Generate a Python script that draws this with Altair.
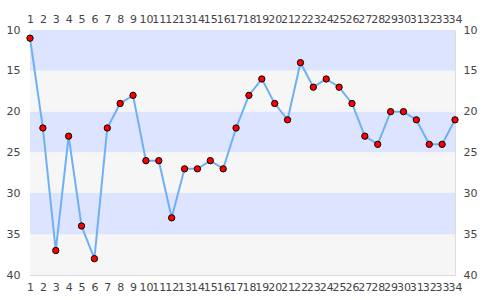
import altair as alt
import pandas as pd

xs = list(range(1, 35))
ys = [11, 22, 37, 23, 34, 38, 22, 19, 18, 26, 26, 33, 27, 27, 26, 27, 22,
      18, 16, 19, 21, 14, 17, 16, 17, 19, 23, 24, 20, 20, 21, 24, 24, 21]
band_start = [10, 15, 20, 25, 30, 35]
band_end = [15, 20, 25, 30, 35, 40]
band_kind = ["a", "b", "a", "b", "a", "b"]
y_ticks = [10, 15, 20, 25, 30, 35, 40]

W, H = 425, 245

df = pd.DataFrame({"x": xs, "y": ys})
bands = pd.DataFrame({"y": band_start, "y2": band_end, "k": band_kind})

xscale = alt.Scale(domain=[1, 34], nice=False, zero=False)
yscale = alt.Scale(domain=[10, 40], reverse=True, nice=False, zero=False)

lab = dict(labelFont="DejaVu Sans", labelFontSize=11, labelColor="#444444",
           ticks=False, domain=False, title=None, labelOverlap=False)

band_layer = alt.Chart(bands).mark_rect().encode(
    x=alt.value(0), x2=alt.value(W),
    y=alt.Y("y:Q", scale=yscale, axis=alt.Axis(orient="left", values=y_ticks,
            grid=True, gridColor="#dcdcdc", labelPadding=10, **lab)),
    y2="y2:Q",
    color=alt.Color("k:N", scale=alt.Scale(domain=["a", "b"], range=["#dde4ff", "#f6f6f6"]), legend=None),
)

grid_right = alt.Chart(bands).mark_rule(opacity=0).encode(
    y=alt.Y("y:Q", scale=yscale, axis=alt.Axis(orient="right", values=y_ticks,
            grid=False, labelPadding=8, **lab)),
)

line = alt.Chart(df).mark_line(color="#6fb0f5", strokeWidth=2).encode(
    x=alt.X("x:Q", scale=xscale, axis=alt.Axis(orient="bottom", values=xs, grid=False,
            labelPadding=6, labelFlush=False, format="d", **lab)),
    y=alt.Y("y:Q", scale=yscale, axis=None),
)

pts = alt.Chart(df).mark_point(filled=True, fill="#ff0000", stroke="#000000",
                               strokeWidth=1, size=40, opacity=1).encode(
    x=alt.X("x:Q", scale=xscale, axis=alt.Axis(orient="top", values=xs, grid=False,
            labelPadding=6, labelFlush=False, format="d", **lab)),
    y=alt.Y("y:Q", scale=yscale, axis=None),
)

chart = alt.layer(band_layer, grid_right, line, pts).resolve_axis(
    x="independent", y="independent"
).properties(
    width=W, height=H,
    autosize=alt.AutoSizeParams(type="none"),
    padding={"left": 30, "top": 30, "right": 30, "bottom": 25},
).configure_view(stroke="#d0d0d0", strokeWidth=1).configure(background="white")

chart.save("out.html", embed_options={"renderer": "svg", "actions": False})
